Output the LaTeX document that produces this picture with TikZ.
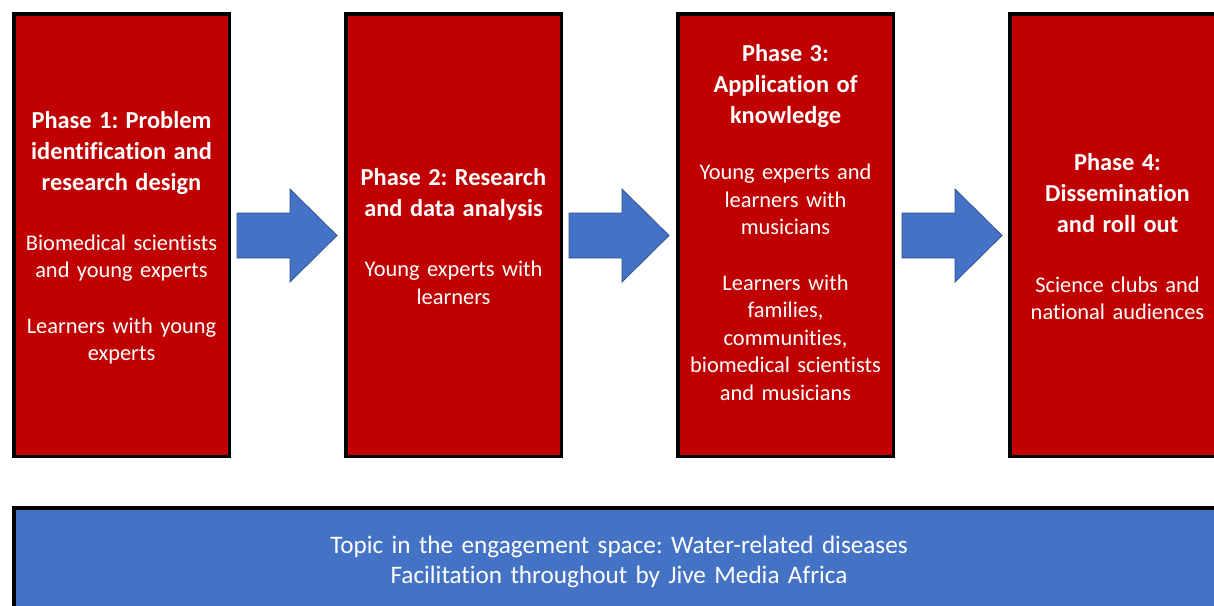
\documentclass[tikz,border=0pt]{standalone}
\usepackage{fontspec}
\setmainfont{Carlito}[Ligatures={NoCommon}]
\frenchspacing
\definecolor{phasered}{HTML}{C00000}
\definecolor{topicblue}{HTML}{4472C4}
\definecolor{arrowedge}{HTML}{2F528F}
\newcommand{\phTitle}{\fontsize{24.4}{31}\selectfont\bfseries}
\newcommand{\phBody}{\fontsize{22.4}{27.6}\selectfont\mdseries}
\tikzset{
  phasebox/.style={draw=black, line width=3.5pt, fill=phasered, outer sep=0pt, inner sep=0pt, anchor=north west},
  phasetext/.style={text=white, align=center, text width=216pt, inner sep=0pt, anchor=base, font=\phBody},
  topicbox/.style={draw=black, line width=3.5pt, fill=topicblue, outer sep=0pt, inner sep=0pt, anchor=north west},
  topictext/.style={text=white, align=center, text width=700pt, inner sep=0pt, anchor=base, font=\fontsize{25.2}{30.7}\selectfont},
  flowarrow/.style={fill=topicblue, draw=arrowedge, line width=0.8pt, line join=miter}
}
\begin{document}
\begin{tikzpicture}[x=1pt,y=-1pt]
\useasboundingbox (0,0) rectangle (1214,605);
% phase boxes
\node[phasebox, minimum width=215.5pt, minimum height=442.5pt] (p1) at (13.75,13.75) {};
\node[phasebox, minimum width=215.5pt, minimum height=442.5pt] (p2) at (345.75,13.75) {};
\node[phasebox, minimum width=215.5pt, minimum height=442.5pt] (p3) at (677.75,13.75) {};
\node[phasebox, minimum width=215.5pt, minimum height=442.5pt] (p4) at (1009.75,13.75) {};
% bottom box
\node[topicbox, minimum width=1210pt, minimum height=120pt] (topic) at (13.75,507.75) {};
% texts
\node[phasetext] (t1) at (121.5,128.3) {\phTitle Phase 1: Problem\\identification and\\research design\\[32.4pt]\phBody Biomedical scientists\\and young experts\\[27.6pt]Learners with young\\experts\par};
\node[phasetext] (t2) at (453.5,185.5) {\phTitle Phase 2: Research\\and data analysis\\[32.4pt]\phBody Young experts with\\learners\par};
\node[phasetext] (t3) at (785.5,61.7) {\phTitle Phase 3:\\Application of\\knowledge\\[28.4pt]\phBody Young experts and\\learners with\\musicians\\[27.6pt]Learners with\\families,\\communities,\\biomedical scientists\\and musicians\par};
\node[phasetext] (t4) at (1117.5,170) {\phTitle Phase 4:\\Dissemination\\and roll out\\[32.4pt]\phBody Science clubs and\\national audiences\par};
\node[topictext] (tt) at (619,553) {Topic in the engagement space: Water-related diseases\\Facilitation throughout by Jive Media Africa\par};
% arrows
\foreach \x/\n in {237/a1,569/a2,902/a3}{
  \draw[flowarrow] (\x,213) coordinate (\n s) -- (\x+53,213) -- (\x+53,189) -- (\x+100,235.5) coordinate (\n t) -- (\x+53,282) -- (\x+53,258) -- (\x,258) -- cycle;
}
\end{tikzpicture}
\end{document}
